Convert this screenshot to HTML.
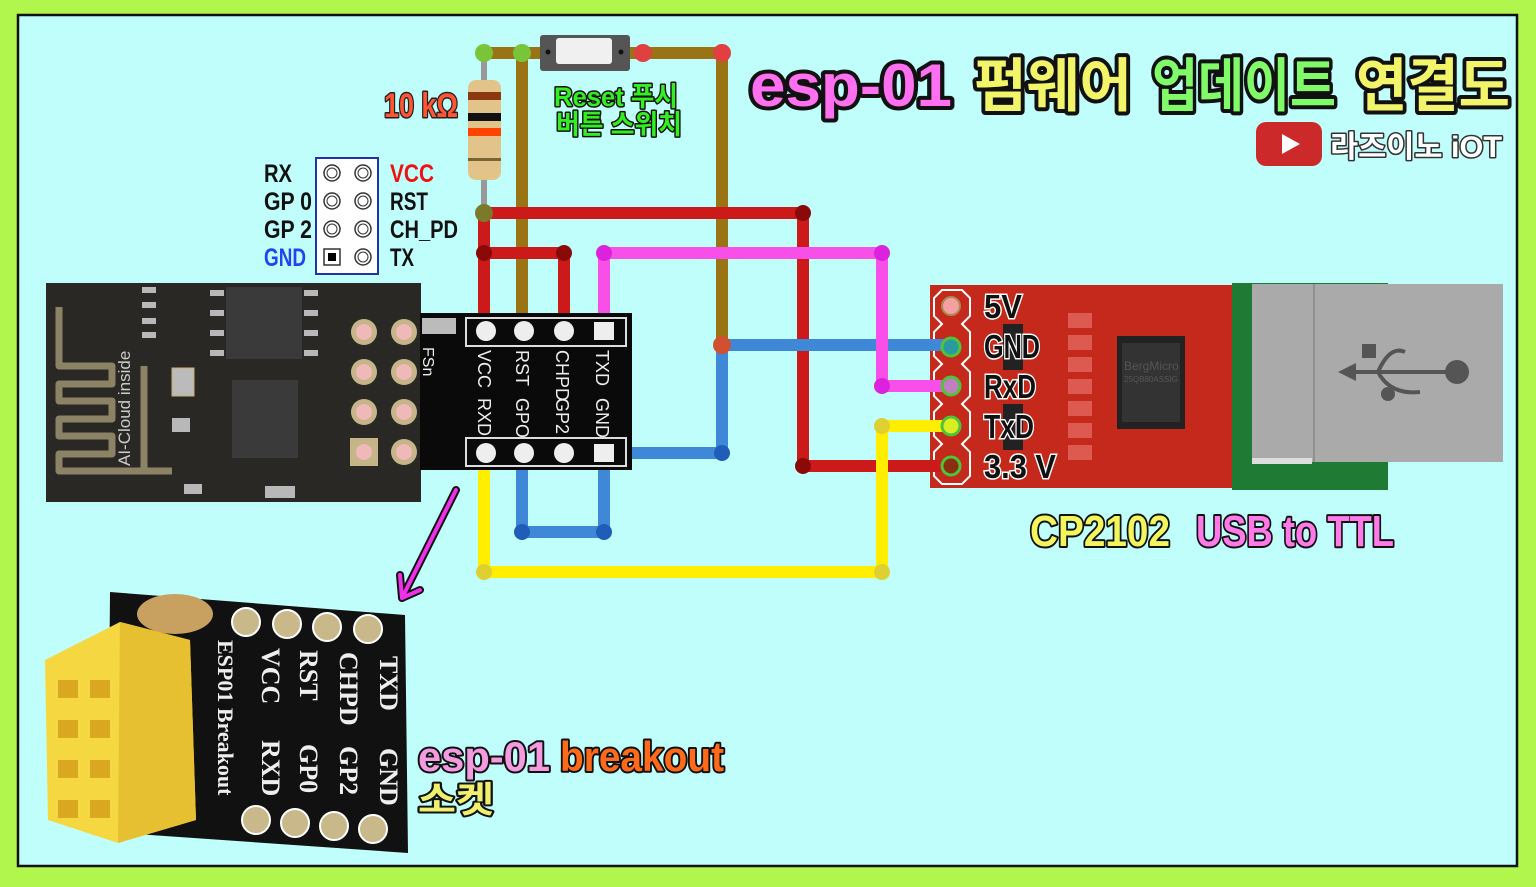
<!DOCTYPE html>
<html><head><meta charset="utf-8"><style>
html,body{margin:0;padding:0;background:#b0f64c;}
svg{display:block}
.t{font-family:"Liberation Sans","Noto Sans CJK KR",sans-serif;font-weight:bold;paint-order:stroke;stroke-linejoin:round}
</style></head><body>
<svg width="1536" height="887" viewBox="0 0 1536 887" xmlns="http://www.w3.org/2000/svg">
<rect x="0" y="0" width="1536" height="887" fill="#b0f64c"/>
<rect x="18" y="15" width="1499" height="851" fill="#c0fefc" stroke="#111" stroke-width="2.5"/>

<!-- ESP-01 module -->
<rect x="46" y="283" width="375" height="219" fill="#2a2824"/>
<path d="M59 307 V366 H112 V384 H59 V401 H112 V419 H59 V436 H112 V454 H59 V471 H172 M144 366 V471" stroke="#8c8266" stroke-width="7" fill="none" stroke-linejoin="round"/>
<text x="130" y="466" transform="rotate(-90 130 466)" font-family="Liberation Sans,sans-serif" font-size="17" fill="#ccc">AI-Cloud inside</text>
<rect x="226" y="287" width="76" height="72" fill="#3a3a3a"/>
<rect x="232" y="380" width="66" height="78" fill="#3a3a3a"/>
<rect x="172" y="368" width="22" height="28" fill="#bbb" stroke="#c8b06a"/>
<g fill="#b8b8b8"><rect x="210" y="290" width="14" height="6"/><rect x="210" y="310" width="14" height="6"/><rect x="210" y="330" width="14" height="6"/><rect x="210" y="350" width="14" height="6"/><rect x="304" y="290" width="14" height="6"/><rect x="304" y="310" width="14" height="6"/><rect x="304" y="330" width="14" height="6"/><rect x="304" y="350" width="14" height="6"/><rect x="142" y="287" width="14" height="6"/><rect x="142" y="302" width="14" height="6"/><rect x="142" y="318" width="14" height="6"/><rect x="142" y="332" width="14" height="6"/><rect x="265" y="486" width="30" height="12"/><rect x="172" y="418" width="18" height="14"/><rect x="184" y="484" width="18" height="10"/></g>
<g>
<circle cx="364" cy="332" r="13" fill="#c7b58a"/><circle cx="364" cy="332" r="8" fill="#f0b8b8"/>
<circle cx="404" cy="332" r="13" fill="#c7b58a"/><circle cx="404" cy="332" r="8" fill="#f0b8b8"/>
<circle cx="364" cy="372" r="13" fill="#c7b58a"/><circle cx="364" cy="372" r="8" fill="#f0b8b8"/>
<circle cx="404" cy="372" r="13" fill="#c7b58a"/><circle cx="404" cy="372" r="8" fill="#f0b8b8"/>
<circle cx="364" cy="412" r="13" fill="#c7b58a"/><circle cx="364" cy="412" r="8" fill="#f0b8b8"/>
<circle cx="404" cy="412" r="13" fill="#c7b58a"/><circle cx="404" cy="412" r="8" fill="#f0b8b8"/>
<rect x="350" y="438" width="28" height="28" fill="#c7b58a"/><circle cx="364" cy="452" r="8" fill="#f0b8b8"/>
<circle cx="404" cy="452" r="13" fill="#c7b58a"/><circle cx="404" cy="452" r="8" fill="#f0b8b8"/>
</g>

<!-- pin legend -->
<rect x="316" y="158" width="62" height="116" fill="#fff" stroke="#2233aa" stroke-width="2"/>
<g fill="none" stroke="#333" stroke-width="1.5">
<circle cx="332" cy="173" r="8"/><circle cx="363" cy="173" r="8"/>
<circle cx="332" cy="201" r="8"/><circle cx="363" cy="201" r="8"/>
<circle cx="332" cy="229" r="8"/><circle cx="363" cy="229" r="8"/>
<circle cx="363" cy="257" r="8"/><rect x="324" y="249" width="16" height="16"/>
</g>
<g fill="none" stroke="#333" stroke-width="1"><circle cx="332" cy="173" r="5"/><circle cx="363" cy="173" r="5"/><circle cx="332" cy="201" r="5"/><circle cx="363" cy="201" r="5"/><circle cx="332" cy="229" r="5"/><circle cx="363" cy="229" r="5"/><circle cx="363" cy="257" r="5"/></g>
<rect x="328" y="253" width="8" height="8" fill="#000"/>
<g font-family="Liberation Sans,sans-serif" font-weight="bold" font-size="25">
<text x="264" y="182" fill="#111" textLength="28" lengthAdjust="spacingAndGlyphs">RX</text>
<text x="264" y="210" fill="#111" textLength="48" lengthAdjust="spacingAndGlyphs">GP 0</text>
<text x="264" y="238" fill="#111" textLength="48" lengthAdjust="spacingAndGlyphs">GP 2</text>
<text x="264" y="266" fill="#2244ee" textLength="42" lengthAdjust="spacingAndGlyphs">GND</text>
<text x="390" y="182" fill="#ee1111" textLength="44" lengthAdjust="spacingAndGlyphs">VCC</text>
<text x="390" y="210" fill="#111" textLength="38" lengthAdjust="spacingAndGlyphs">RST</text>
<text x="390" y="238" fill="#111" textLength="68" lengthAdjust="spacingAndGlyphs">CH_PD</text>
<text x="390" y="266" fill="#111" textLength="24" lengthAdjust="spacingAndGlyphs">TX</text>
</g>

<!-- CP2102 board (below wires) -->
<rect x="1232" y="283" width="156" height="207" fill="#1f7a33"/>
<rect x="930" y="285" width="302" height="203" fill="#c4291c"/>
<path d="M942 290 L962 290 L970 298 V316 L962 324 L970 332 V356 L962 364 L970 372 V396 L962 404 L970 412 V436 L962 444 L970 452 V476 L962 484 H942 L934 476 V452 L942 444 L934 436 V412 L942 404 L934 396 V372 L942 364 L934 356 V332 L942 324 L934 316 V298 Z" fill="none" stroke="#fff" stroke-width="2"/>
<rect x="1003" y="324" width="20" height="46" fill="#222"/><rect x="1003" y="404" width="20" height="46" fill="#222"/>
<g fill="#dd5a50"><rect x="1068" y="313" width="24" height="15"/><rect x="1068" y="335" width="24" height="15"/><rect x="1068" y="357" width="24" height="15"/><rect x="1068" y="379" width="24" height="15"/><rect x="1068" y="401" width="24" height="15"/><rect x="1068" y="423" width="24" height="15"/><rect x="1068" y="445" width="24" height="15"/></g>
<rect x="1117" y="336" width="68" height="93" fill="#222"/><rect x="1122" y="343" width="58" height="79" fill="#333"/>
<text x="1124" y="370" font-family="Liberation Sans,sans-serif" font-size="12" fill="#555">BergMicro</text>
<text x="1124" y="382" font-family="Liberation Sans,sans-serif" font-size="8" fill="#555">25QB80ASSIG</text>
<rect x="1252" y="284" width="251" height="178" fill="#aaa"/>
<line x1="1314" y1="284" x2="1314" y2="462" stroke="#777" stroke-width="1"/>
<rect x="1252" y="458" width="60" height="6" fill="#ddd"/>
<path d="M1350 372 H1447 M1378 372 Q1390 345 1405 352 M1378 372 Q1390 395 1420 392" stroke="#555" stroke-width="4" fill="none"/>
<polygon points="1338,372 1356,363 1356,381" fill="#555"/><circle cx="1457" cy="372" r="12" fill="#555"/>
<rect x="1362" y="344" width="14" height="14" fill="#555"/><circle cx="1388" cy="394" r="7" fill="#555"/>

<!-- resistor lead & wires -->
<line x1="484" y1="53" x2="484" y2="213" stroke="#999" stroke-width="6"/>
<g fill="none" stroke-width="12" stroke-linejoin="round">
<path d="M484 53 H545 M522 53 V325" stroke="#9a7414"/>
<path d="M630 53 H722 V345" stroke="#9a7414"/>
<path d="M484 213 H803 V466 H950 M484 213 V325 M484 253 H564 V325" stroke="#cc1a1a"/>
<path d="M950 345 H722 V453 H630 M522 460 V532 H604 V460" stroke="#3f88d8"/>
<path d="M604 325 V253 H882 V386 H950" stroke="#f74fe8"/>
<path d="M484 460 V572 H882 V426 H950" stroke="#ffee00"/>
</g>
<g>
<circle cx="484" cy="53" r="9" fill="#7ac43a"/><circle cx="522" cy="53" r="9" fill="#7ac43a"/>
<circle cx="643" cy="53" r="9" fill="#e04040"/><circle cx="722" cy="53" r="9" fill="#e04040"/>
<circle cx="484" cy="213" r="9" fill="#7a7a2a"/><circle cx="803" cy="213" r="8" fill="#8a0a0a"/>
<circle cx="484" cy="253" r="8" fill="#8a0a0a"/><circle cx="564" cy="253" r="8" fill="#8a0a0a"/>
<circle cx="803" cy="466" r="8" fill="#8a0a0a"/>
<circle cx="604" cy="253" r="8" fill="#dd22dd"/><circle cx="882" cy="253" r="8" fill="#dd22dd"/><circle cx="882" cy="386" r="8" fill="#dd22dd"/>
<circle cx="722" cy="345" r="9" fill="#d05030"/><circle cx="722" cy="453" r="8" fill="#1f5db8"/>
<circle cx="522" cy="532" r="8" fill="#1f5db8"/><circle cx="604" cy="532" r="8" fill="#1f5db8"/>
<circle cx="484" cy="572" r="8" fill="#ddd030"/><circle cx="882" cy="572" r="8" fill="#ddd030"/><circle cx="882" cy="426" r="8" fill="#ddd030"/>
</g>
<circle cx="951" cy="306" r="9" fill="#f4a0a0" stroke="#a85" stroke-width="2"/>
<g stroke="#4ec43a" stroke-width="3"><circle cx="951" cy="347" r="9" fill="#2a9aa0"/><circle cx="951" cy="386" r="9" fill="#c080c0"/><circle cx="951" cy="426" r="9" fill="#d8ee20"/><circle cx="951" cy="466" r="9" fill="#8a3010"/></g>
<g font-family="Liberation Sans,sans-serif" font-weight="bold" font-size="33" fill="#111" stroke="#fff" stroke-width="3" style="paint-order:stroke">
<text x="984" y="318" textLength="38" lengthAdjust="spacingAndGlyphs">5V</text>
<text x="984" y="358" textLength="56" lengthAdjust="spacingAndGlyphs">GND</text>
<text x="984" y="398" textLength="52" lengthAdjust="spacingAndGlyphs">RxD</text>
<text x="984" y="438" textLength="50" lengthAdjust="spacingAndGlyphs">TxD</text>
<text x="984" y="478" textLength="72" lengthAdjust="spacingAndGlyphs">3.3 V</text>
</g>

<!-- resistor -->
<rect x="468" y="80" width="33" height="100" rx="8" fill="#e2c48a"/>
<rect x="468" y="92" width="33" height="8" fill="#8b3a10"/>
<rect x="468" y="113" width="33" height="8" fill="#111"/>
<rect x="468" y="128" width="33" height="8" fill="#ff4400"/>
<rect x="468" y="158" width="33" height="3" fill="#776633"/>
<text x="384" y="117" class="t" font-size="34" fill="#ff5533" stroke="#222" stroke-width="3" textLength="74" lengthAdjust="spacingAndGlyphs">10 kΩ</text>

<!-- switch -->
<rect x="540" y="35" width="90" height="36" rx="3" fill="#555"/>
<rect x="556" y="38" width="56" height="26" rx="3" fill="#f0f0f0"/>
<circle cx="548" cy="52" r="2.5" fill="#111"/><circle cx="621" cy="52" r="2.5" fill="#111"/>
<text x="554" y="106" class="t" font-size="27" fill="#33ee22" stroke="#111" stroke-width="3" textLength="124" lengthAdjust="spacingAndGlyphs">Reset 푸시</text>
<text x="556" y="134" class="t" font-size="27" fill="#33ee22" stroke="#111" stroke-width="3" textLength="126" lengthAdjust="spacingAndGlyphs">버튼 스위치</text>

<!-- adapter board -->
<rect x="420" y="313" width="212" height="157" fill="#0a0a0a"/>
<rect x="466" y="318" width="160" height="28" fill="none" stroke="#ddd" stroke-width="2"/>
<rect x="466" y="438" width="160" height="28" fill="none" stroke="#ddd" stroke-width="2"/>
<g fill="#eee"><circle cx="486" cy="331" r="10"/><circle cx="524" cy="331" r="10"/><circle cx="564" cy="331" r="10"/><rect x="594" y="322" width="20" height="18"/>
<circle cx="486" cy="453" r="10"/><circle cx="524" cy="453" r="10"/><circle cx="564" cy="453" r="10"/><rect x="594" y="444" width="20" height="18"/></g>
<g font-family="Liberation Sans,sans-serif" font-size="18" fill="#eee">
<text transform="translate(478,350) rotate(90)">VCC</text>
<text transform="translate(516,350) rotate(90)">RST</text>
<text transform="translate(556,350) rotate(90)">CHPD</text>
<text transform="translate(596,350) rotate(90)">TXD</text>
<text transform="translate(478,398) rotate(90)">RXD</text>
<text transform="translate(516,398) rotate(90)">GPO</text>
<text transform="translate(556,398) rotate(90)">GP2</text>
<text transform="translate(596,398) rotate(90)">GND</text>
<text transform="translate(423,347) rotate(90)" font-size="16">FSn</text>
</g>
<rect x="422" y="318" width="34" height="16" fill="#bbb"/>

<!-- arrow -->
<path d="M456 490 L402 598 M402 598 L400 575 M402 598 L420 590" stroke="#111" stroke-width="8" fill="none" stroke-linecap="round"/>
<path d="M456 490 L402 598 M402 598 L400 575 M402 598 L420 590" stroke="#f030e8" stroke-width="4" fill="none" stroke-linecap="round"/>

<!-- breakout socket -->
<polygon points="110,592 405,615 408,853 108,832" fill="#111"/>
<g fill="#c8b88a" stroke="#fff" stroke-width="2">
<circle cx="246" cy="622" r="14"/><circle cx="287" cy="624" r="14"/><circle cx="327" cy="627" r="14"/><circle cx="368" cy="629" r="14"/>
<circle cx="256" cy="820" r="14"/><circle cx="295" cy="823" r="14"/><circle cx="334" cy="826" r="14"/><circle cx="373" cy="829" r="14"/>
</g>
<ellipse cx="175" cy="614" rx="38" ry="20" fill="#c8a060"/>
<g font-family="Liberation Serif,serif" font-weight="bold" font-size="26" fill="#eee">
<text transform="translate(380,656) rotate(90)">TXD</text>
<text transform="translate(340,652) rotate(90)">CHPD</text>
<text transform="translate(300,650) rotate(90)">RST</text>
<text transform="translate(262,648) rotate(90)">VCC</text>
<text transform="translate(380,748) rotate(90)">GND</text>
<text transform="translate(340,746) rotate(90)">GP2</text>
<text transform="translate(300,744) rotate(90)">GP0</text>
<text transform="translate(262,740) rotate(90)">RXD</text>
<text transform="translate(218,640) rotate(90)" font-size="22">ESP01 Breakout</text>
</g>
<polygon points="45,660 120,622 190,640 196,820 118,843 48,820" fill="#f5d742"/>
<polygon points="120,622 190,640 196,820 118,843" fill="#e6c030"/>
<g fill="#d9a820"><rect x="58" y="680" width="20" height="18"/><rect x="90" y="680" width="20" height="18"/><rect x="58" y="720" width="20" height="18"/><rect x="90" y="720" width="20" height="18"/><rect x="58" y="760" width="20" height="18"/><rect x="90" y="760" width="20" height="18"/><rect x="58" y="800" width="20" height="18"/><rect x="90" y="800" width="20" height="18"/></g>

<text x="418" y="771" class="t" font-size="42" fill="#f49ae0" stroke="#111" stroke-width="4" textLength="132" lengthAdjust="spacingAndGlyphs">esp-01</text>
<text x="560" y="771" class="t" font-size="42" fill="#ff6a1a" stroke="#111" stroke-width="4" textLength="164" lengthAdjust="spacingAndGlyphs">breakout</text>
<text x="418" y="812" class="t" font-size="36" fill="#f0f070" stroke="#111" stroke-width="4" textLength="76" lengthAdjust="spacingAndGlyphs">소켓</text>

<text x="1030" y="546" class="t" font-size="44" fill="#f2f55e" stroke="#111" stroke-width="4" textLength="140" lengthAdjust="spacingAndGlyphs">CP2102</text>
<text x="1196" y="546" class="t" font-size="44" fill="#ff7ae8" stroke="#111" stroke-width="4" textLength="198" lengthAdjust="spacingAndGlyphs">USB to TTL</text>

<!-- title -->
<text x="750" y="106" class="t" font-size="60" fill="#ff70f0" stroke="#111" stroke-width="8" textLength="202" lengthAdjust="spacingAndGlyphs">esp-01</text>
<text x="974" y="106" class="t" font-size="58" fill="#f2f56a" stroke="#111" stroke-width="8" textLength="158" lengthAdjust="spacingAndGlyphs">펌웨어</text>
<text x="1152" y="106" class="t" font-size="58" fill="#80fa68" stroke="#111" stroke-width="8" textLength="184" lengthAdjust="spacingAndGlyphs">업데이트</text>
<text x="1356" y="106" class="t" font-size="58" fill="#f2f56a" stroke="#111" stroke-width="8" textLength="154" lengthAdjust="spacingAndGlyphs">연결도</text>
<rect x="1256" y="122" width="66" height="44" rx="10" fill="#cc2a2a"/>
<polygon points="1282,134 1282,154 1300,144" fill="#fff"/>
<text x="1330" y="157" class="t" font-size="30" fill="#fff" stroke="#333" stroke-width="3" textLength="172" lengthAdjust="spacingAndGlyphs">라즈이노 iOT</text>
</svg>
</body></html>
